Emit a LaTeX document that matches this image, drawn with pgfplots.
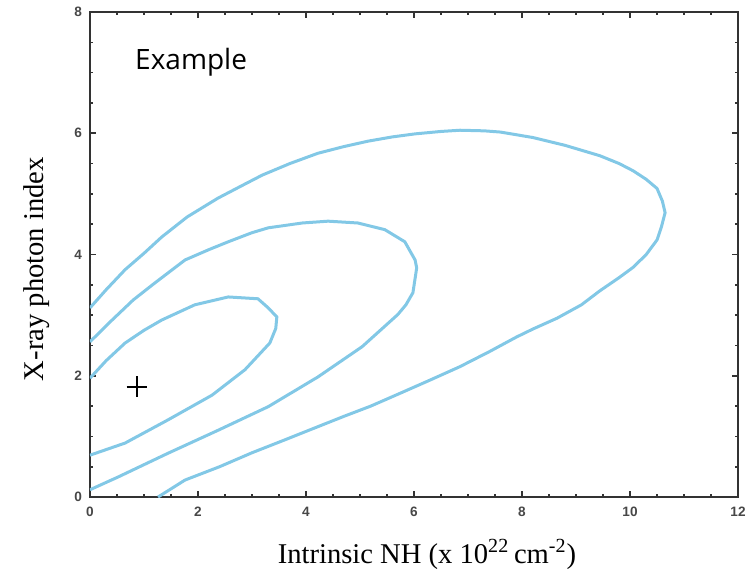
\documentclass[border=0pt]{standalone}
\usepackage{fontspec}
\setmainfont{Liberation Serif}
\newfontfamily\ticksans{Liberation Sans}
\newfontfamily\notesans{Open Sans}
\usepackage{pgfplots}
\pgfplotsset{compat=1.18}
\definecolor{contour}{HTML}{82C8E6}
\definecolor{axisgray}{HTML}{333333}
\begin{document}
\begin{tikzpicture}
\begin{axis}[
  name=ax, at={(0,0)}, anchor=south west,
  scale only axis, width=324pt, height=242.5pt,
  xmin=0, xmax=12, ymin=0, ymax=8,
  xtick={0,2,...,12}, ytick={0,2,...,8},
  minor x tick num=3, minor y tick num=3,
  tick align=inside,
  major tick length=3pt, minor tick length=1.6pt,
  axis line style={axisgray, line width=0.9pt},
  every tick/.style={axisgray, line width=0.8pt},
  /pgf/number format/assume math mode=true,
  tick label style={font=\ticksans\bfseries\fontsize{6.8}{7}\selectfont, text=black!72},
  xticklabel style={yshift=-1.5pt},
  yticklabel style={xshift=-0.5pt},
  xlabel={Intrinsic NH (x 10\textsuperscript{22}\,cm\textsuperscript{-2})},
  ylabel={X-ray photon index},
  label style={font=\fontsize{14.3}{16}\selectfont},
  xlabel style={at={(axis description cs:0.52,0)}, anchor=base, yshift=-33pt},
  ylabel style={at={(axis description cs:-0.082,0.47)}, anchor=center},
]
% outer contour
\addplot[contour, line width=1.5pt] coordinates {
(0,3.12) (0.3,3.42) (0.65,3.75) (1.0,4.02) (1.33,4.29) (1.8,4.62) (2.37,4.93)
(2.8,5.13) (3.19,5.31) (3.7,5.5) (4.22,5.67) (4.7,5.78) (5.15,5.87) (5.6,5.94)
(6.02,5.99) (6.5,6.03) (6.85,6.05) (7.3,6.04) (7.6,6.02) (8.2,5.93) (8.8,5.8)
(9.44,5.63) (9.8,5.5) (10.06,5.38) (10.3,5.24) (10.5,5.09) (10.6,4.88)
(10.65,4.69) (10.58,4.45) (10.5,4.24) (10.3,4.0) (10.06,3.79) (9.8,3.62)
(9.44,3.4) (9.1,3.17) (8.65,2.95) (8.2,2.77) (7.9,2.64) (7.4,2.4) (6.85,2.15)
(6.3,1.93) (5.74,1.71) (5.2,1.5) (4.7,1.33) (4.22,1.16) (3.6,0.94) (3.0,0.73)
(2.4,0.5) (1.76,0.28) (1.26,0.0)
};
% middle contour
\addplot[contour, line width=1.5pt] coordinates {
(0,2.56) (0.41,2.92) (0.8,3.25) (1.2,3.53) (1.76,3.91) (2.2,4.08) (2.56,4.21)
(3.0,4.36) (3.3,4.44) (3.93,4.52) (4.41,4.55) (4.96,4.52) (5.46,4.41)
(5.83,4.21) (6.02,3.91) (6.05,3.78) (5.98,3.37) (5.85,3.17) (5.7,3.01)
(5.04,2.48) (4.22,1.98) (3.3,1.49) (2.37,1.1) (1.44,0.72) (0.52,0.33) (0,0.12)
};
% inner contour
\addplot[contour, line width=1.5pt] coordinates {
(0,1.96) (0.3,2.25) (0.65,2.54) (1.0,2.75) (1.33,2.92) (1.94,3.17) (2.56,3.30)
(3.11,3.27) (3.30,3.12) (3.46,2.97) (3.44,2.78) (3.33,2.54) (2.87,2.1)
(2.26,1.68) (1.44,1.27) (0.65,0.89) (0,0.69)
};
% best fit
\addplot[black, only marks, mark=+, mark size=5.2pt, mark options={line width=1pt}]
  coordinates {(0.87,1.82)};
\node[anchor=west, font=\notesans\fontsize{14}{16}\selectfont, inner sep=0pt]
  at (axis cs:0.83,7.17) {Example};
\end{axis}
\pgfresetboundingbox
\path[use as bounding box] (-45pt,-39pt) rectangle (329pt,248.5pt);
\end{tikzpicture}
\end{document}
